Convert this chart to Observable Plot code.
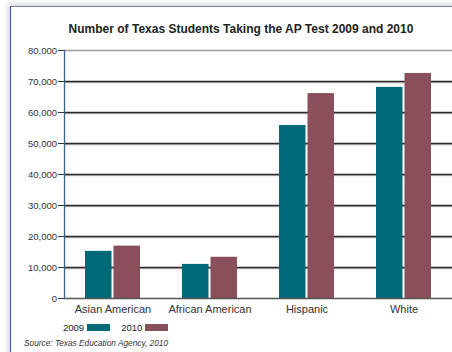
<!DOCTYPE html>
<html>
<head>
<meta charset="utf-8">
<script src="https://cdn.jsdelivr.net/npm/d3@7"></script>
<script src="https://cdn.jsdelivr.net/npm/@observablehq/plot@0.6"></script>
<style>
  html, body { margin: 0; padding: 0; background: #fff; }
  body { width: 452px; height: 352px; position: relative; overflow: hidden; font-family: "Liberation Sans", Arial, sans-serif; }
  #frame { position: absolute; left: 10px; top: 6px; width: 460px; height: 360px; border-left: 1.5px solid #3d5f94; border-top: 1.5px solid #6d83a8; box-shadow: -2px -2px 5px rgba(0,0,0,0.18); }
  #title { position: absolute; left: 0; top: 22px; width: 482px; text-align: center; font-weight: bold; font-size: 12px; color: #222; }
  #chart { position: absolute; left: 0; top: 40px; }
  #legend { position: absolute; left: 63px; top: 322px; font-size: 9.5px; color: #222; display: flex; align-items: center; }
  #legend .sw { display: inline-block; width: 23px; height: 7px; margin-left: 3px; margin-right: 11px; }
  #source { position: absolute; left: 24px; top: 338px; font-size: 8.3px; font-style: italic; color: #333; }
</style>
</head>
<body>
<div id="frame"></div>
<div id="title">Number of Texas Students Taking the AP Test 2009 and 2010</div>
<div id="chart"></div>
<div id="legend"></div>
<div id="source">Source: Texas Education Agency, 2010</div>
<script>
const categories = ["Asian American", "African American", "Hispanic", "White"];
const values2009 = [15200, 11000, 55800, 68100];
const values2010 = [16900, 13300, 66100, 72600];
const years = ["2009", "2010"];
const yTicks = [0, 10000, 20000, 30000, 40000, 50000, 60000, 70000, 80000];

const colors = {"2009": "#006978", "2010": "#894f5a"};
const data = categories.map((c, i) => ({category: c, v2009: values2009[i], v2010: values2010[i]}));

const fmt = d3.format(",");
const chart = Plot.plot({
  width: 452,
  height: 278,
  marginTop: 10,
  marginBottom: 20,
  marginLeft: 64,
  marginRight: 0,
  style: {fontFamily: "Liberation Sans, Arial, sans-serif", background: "transparent", color: "#333"},
  x: {domain: categories, paddingInner: 0.43, paddingOuter: 0.215, label: null},
  y: {domain: [0, 80000], label: null},
  marks: [
    Plot.ruleY(yTicks.filter(t => t > 0 && t < 80000), {y: d => d, stroke: "#aaa", strokeWidth: 1, dy: 1.2}),
    Plot.ruleY(yTicks.filter(t => t > 0 && t < 80000), {y: d => d, stroke: "#2b2b2b", strokeWidth: 1.3}),
    Plot.ruleY([80000], {y: d => d, stroke: "#9a9a9a", strokeWidth: 1.3}),
    Plot.barY(data, {x: "category", y: "v2009", fill: colors["2009"], insetRight: 28.5}),
    Plot.barY(data, {x: "category", y: "v2010", fill: colors["2010"], insetLeft: 28.5}),
    Plot.ruleY([0], {y: d => d, stroke: "#555", strokeWidth: 1.5}),
    Plot.axisY({ticks: yTicks, tickFormat: fmt, tickSize: 6, tickPadding: 1.5, fontSize: 9.5, stroke: "#333", fill: "#333"}),
    Plot.axisX({tickSize: 0, tickPadding: 7, fontSize: 11, fill: "#333"}),
    Plot.frame({anchor: "left", stroke: "#3d5f94", strokeWidth: 1.3})
  ]
});
document.getElementById("chart").appendChild(chart);

const legend = document.getElementById("legend");
years.forEach(y => {
  const t = document.createElement("span");
  t.textContent = y;
  legend.appendChild(t);
  const s = document.createElement("span");
  s.className = "sw";
  s.style.background = colors[y];
  legend.appendChild(s);
});
</script>
</body>
</html>
